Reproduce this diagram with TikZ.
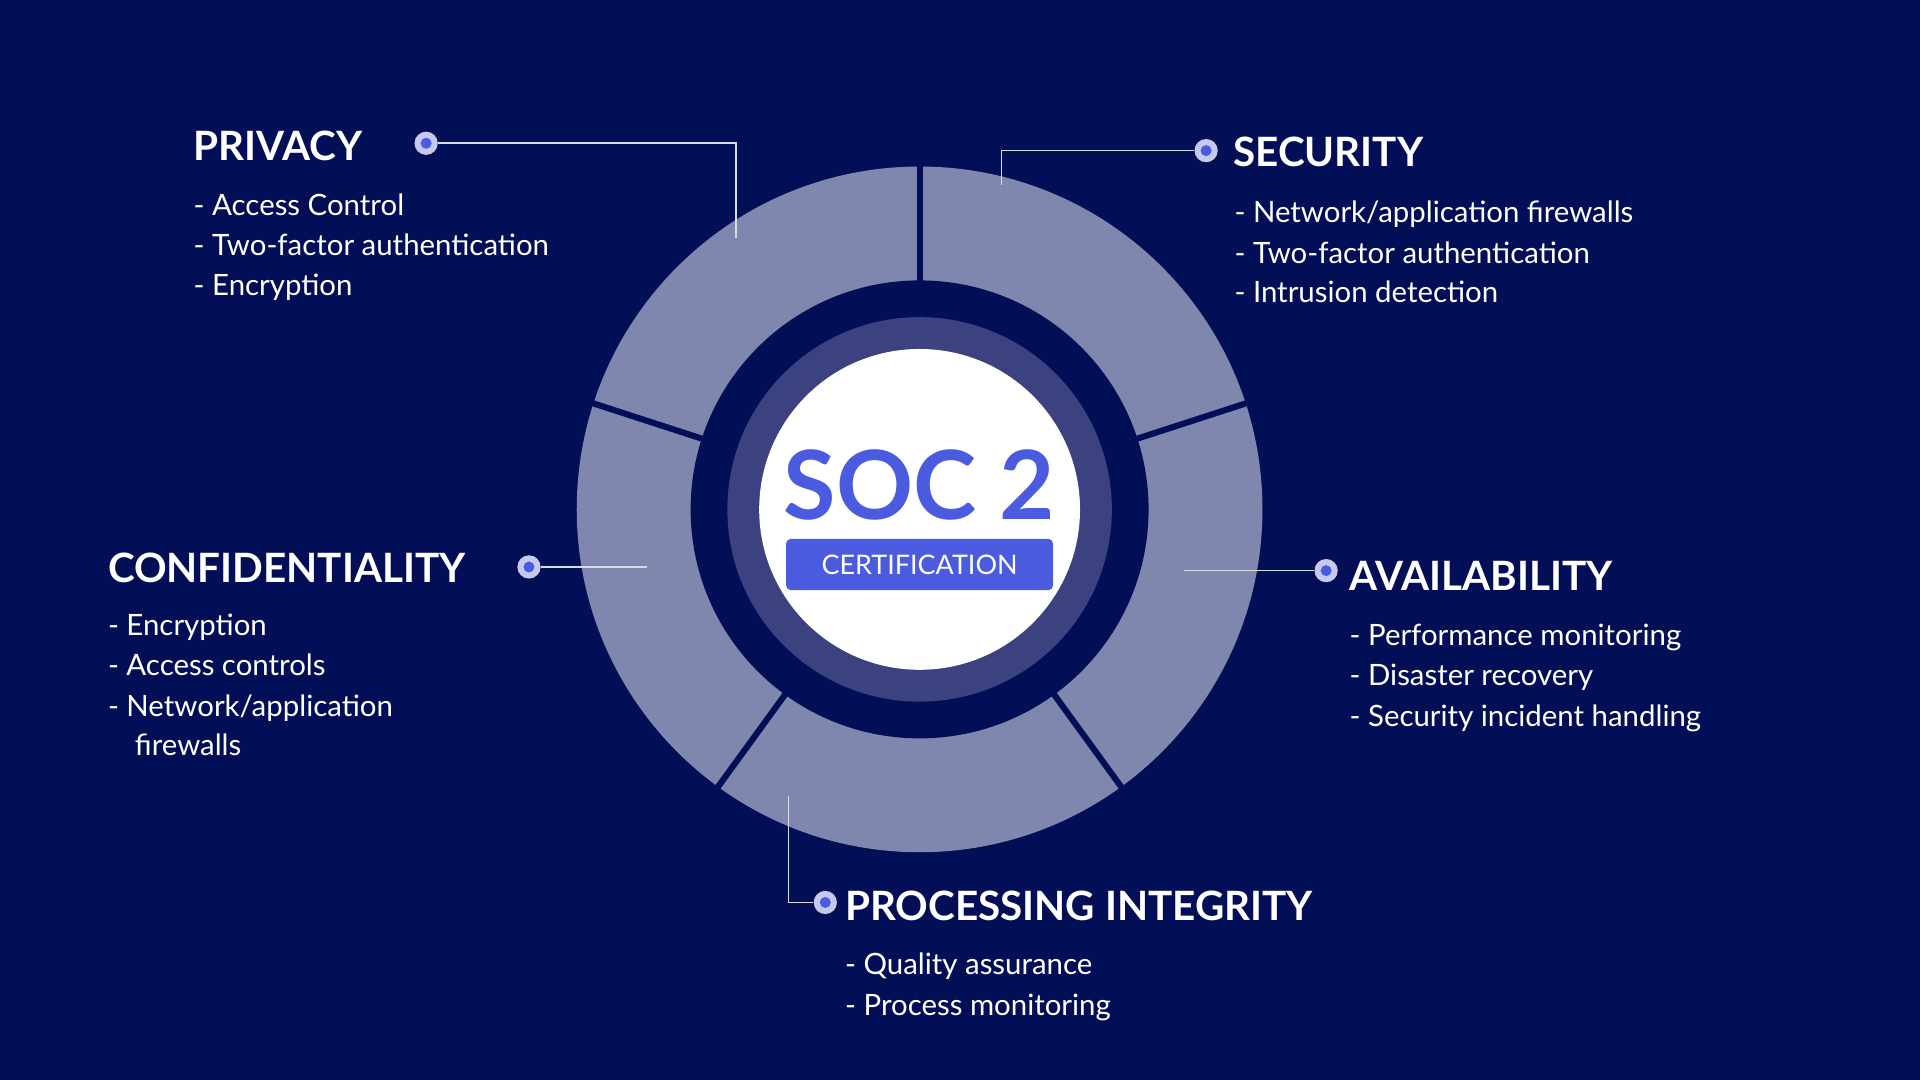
\documentclass[tikz,border=0pt]{standalone}
\usepackage{fontspec}
\setmainfont{Lato}
\definecolor{bg}{HTML}{020E56}
\definecolor{seg}{HTML}{7F87AE}
\definecolor{mid}{HTML}{3C4280}
\definecolor{acc}{HTML}{4A5BE0}
\definecolor{dotc}{HTML}{C5C9EE}
\begin{document}
\begin{tikzpicture}[x=1pt,y=-1pt,
  ttl/.style={anchor=base west,inner sep=0,text=white,font=\fontsize{33}{36}\selectfont\bfseries},
  itm/.style={anchor=base west,inner sep=0,text=white,font=\fontsize{24}{28}\selectfont},
  conn/.style={draw=white!85!bg,line width=1.3pt},
  pin/.style={circle,fill=dotc,minimum size=19pt,inner sep=0,path picture={\fill[acc] (path picture bounding box.center) circle (4.5pt);}}]
\fill[bg] (0,0) rectangle (1568,882);
\useasboundingbox (0,0) rectangle (1568,882);
\coordinate (c) at (751,416);
\fill[seg] (c) circle (280);
\fill[bg] (c) circle (187);
\foreach \a in {90,18,-54,-126,162}
  \draw[bg,line width=5pt] (c) -- +({282*cos(\a)},{-282*sin(\a)});
\fill[mid] (c) circle (157);
\fill[white] (c) circle (131);
\node[text=acc,font=\fontsize{78}{80}\selectfont\bfseries,inner sep=0] (soc) at (751,396) {SOC 2};
\node[fill=acc,rounded corners=4pt,minimum width=218pt,minimum height=42pt,text=white,font=\fontsize{22}{24}\selectfont,inner sep=0] (cert) at (751,461) {CERTIFICATION};
% Privacy
\node[pin] (p1) at (348,117) {};
\coordinate (p1e) at (601,194);
\draw[conn] (p1) -- (601,117) -- (p1e);
\node[ttl] (t1) at (158,131) {PRIVACY};
\node[itm] (a1) at (158,176) {- Access Control};
\node[itm] (a2) at (158,209) {- Two-factor authentication};
\node[itm] (a3) at (158,241) {- Encryption};
% Security
\node[pin] (p2) at (985,123) {};
\coordinate (p2e) at (818,151);
\draw[conn] (p2) -- (818,123) -- (p2e);
\node[ttl] (t2) at (1007,136) {SECURITY};
\node[itm] (b1) at (1008,182) {- Network/application firewalls};
\node[itm] (b2) at (1008,215) {- Two-factor authentication};
\node[itm] (b3) at (1008,247) {- Intrusion detection};
% Confidentiality
\node[pin] (p3) at (432,463) {};
\coordinate (p3e) at (528,463);
\draw[conn] (p3) -- (p3e);
\node[ttl] (t3) at (88,476) {CONFIDENTIALITY};
\node[itm] (c1) at (88,519) {- Encryption};
\node[itm] (c2) at (88,552) {- Access controls};
\node[itm] (c3) at (88,585) {- Network/application};
\node[itm] (c4) at (110,617) {firewalls};
% Availability
\node[pin] (p4) at (1083,466) {};
\coordinate (p4e) at (967,466);
\draw[conn] (p4) -- (p4e);
\node[ttl] (t4) at (1102,482) {AVAILABILITY};
\node[itm] (d1) at (1102,527) {- Performance monitoring};
\node[itm] (d2) at (1102,560) {- Disaster recovery};
\node[itm] (d3) at (1102,593) {- Security incident handling};
% Processing integrity
\node[pin] (p5) at (674,737) {};
\coordinate (p5e) at (644,650);
\draw[conn] (p5) -- (644,737) -- (p5e);
\node[ttl] (t5) at (690,752) {PROCESSING INTEGRITY};
\node[itm] (e1) at (690,796) {- Quality assurance};
\node[itm] (e2) at (690,829) {- Process monitoring};
\end{tikzpicture}
\end{document}
